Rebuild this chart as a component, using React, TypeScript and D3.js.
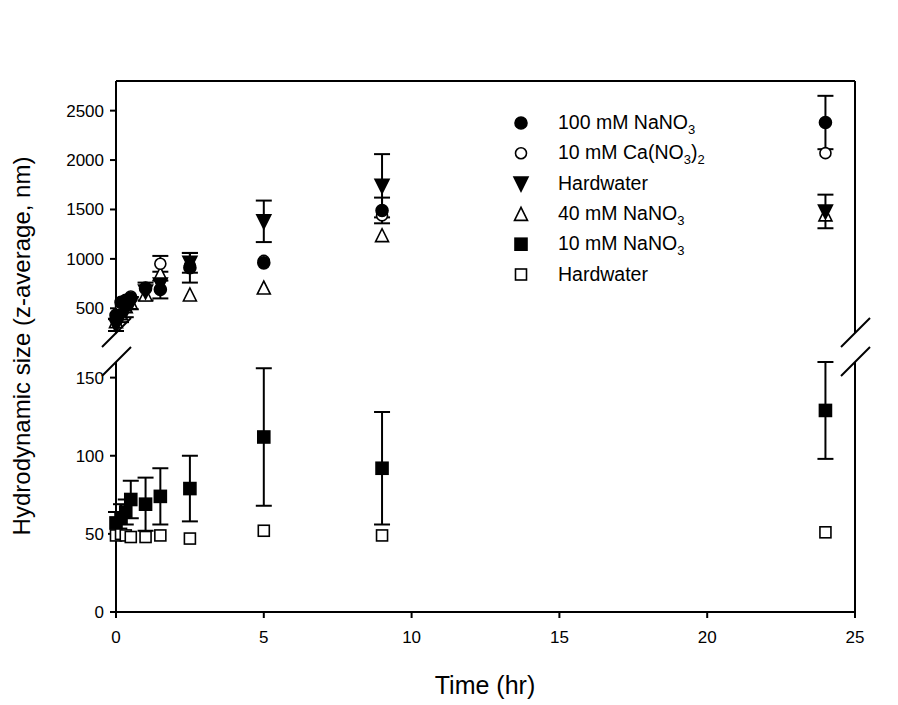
import React from "react";
import * as d3 from "d3";

const times = [0, 0.17, 0.33, 0.5, 1, 1.5, 2.5, 5, 9, 24];

// Upper panel series
const na100 = [430, 560, 580, 600, 700, 690, 910, 960, 1490, 2380];
const na100Err = [0, 0, 0, 0, 0, 90, 150, 0, 130, 270];
const ca10 = [400, 520, 560, 620, 710, 950, 930, 980, 1440, 2070];
const ca10Err = [0, 0, 0, 0, 0, 80, 0, 0, 0, 0];
const hwHigh = [330, 420, 480, 550, 670, 740, 960, 1380, 1740, 1480];
const hwHighErr = [60, 60, 70, 60, 90, 0, 100, 210, 320, 170];
const na40 = [370, 450, 520, 560, 640, 850, 640, 710, 1240, 1450];

// Lower panel series
const na10 = [57, 60, 64, 72, 69, 74, 79, 112, 92, 129];
const na10Err = [7, 9, 8, 12, 17, 18, 21, 44, 36, 31];
const hwLow = [49, 50, 49, 48, 48, 49, 47, 52, 49, 51];

const xTicks = [0, 5, 10, 15, 20, 25];
const yLowTicks = [0, 50, 100, 150];
const yHighTicks = [500, 1000, 1500, 2000, 2500];

const legendItems = [
  { shape: "circle", fill: true, label: "100 mM NaNO", sub: "3", tail: "" },
  { shape: "circle", fill: false, label: "10 mM Ca(NO", sub: "3", tail: ")2" },
  { shape: "tridown", fill: true, label: "Hardwater", sub: "", tail: "" },
  { shape: "triup", fill: false, label: "40 mM NaNO", sub: "3", tail: "" },
  { shape: "square", fill: true, label: "10 mM NaNO", sub: "3", tail: "" },
  { shape: "square", fill: false, label: "Hardwater", sub: "", tail: "" },
];

const FONT = "Arial, 'Liberation Sans', sans-serif";

function Marker({ shape, fill, cx, cy }: { shape: string; fill: boolean; cx: number; cy: number }) {
  const f = fill ? "#000" : "#fff";
  const sw = 1.6;
  if (shape === "circle") {
    return <circle cx={cx} cy={cy} r={fill ? 6 : 5.5} fill={f} stroke="#000" strokeWidth={sw} />;
  }
  if (shape === "square") {
    const s = fill ? 12 : 11;
    return <rect x={cx - s / 2} y={cy - s / 2} width={s} height={s} fill={f} stroke="#000" strokeWidth={sw} />;
  }
  if (shape === "tridown") {
    const w = 7, h = 6.5;
    return <path d={`M${cx - w},${cy - h}L${cx + w},${cy - h}L${cx},${cy + h + 1}Z`} fill={f} stroke="#000" strokeWidth={sw} />;
  }
  const w = 6.5, h = 6.5;
  return <path d={`M${cx - w},${cy + h}L${cx + w},${cy + h}L${cx},${cy - h}Z`} fill={f} stroke="#000" strokeWidth={sw} />;
}

export default function App() {
  const W = 898, H = 705;
  const x = d3.scaleLinear().domain([0, 25]).range([116, 855]);
  const yLow = d3.scaleLinear().domain([0, 160]).range([612, 362]);
  const yHigh = d3.scaleLinear().domain([250, 2800]).range([333, 81]);

  const capW = 8;
  const errBars = (vals: number[], errs: number[], y: d3.ScaleLinear<number, number>, key: string) =>
    vals.map((v, i) => {
      const e = errs[i];
      if (!e) return null;
      const cx = x(times[i]);
      const t = y(v + e), b = y(v - e);
      return (
        <g key={key + i} stroke="#000" strokeWidth={2}>
          <line x1={cx} x2={cx} y1={t} y2={b} />
          <line x1={cx - capW} x2={cx + capW} y1={t} y2={t} />
          <line x1={cx - capW} x2={cx + capW} y1={b} y2={b} />
        </g>
      );
    });

  const markers = (vals: number[], y: d3.ScaleLinear<number, number>, shape: string, fill: boolean, key: string) =>
    vals.map((v, i) => <Marker key={key + i} shape={shape} fill={fill} cx={x(times[i])} cy={y(v)} />);

  const x0 = x(0), x1 = x(25);
  const upTop = yHigh(2800), upBot = yHigh(250);
  const lowTop = yLow(160), lowBot = yLow(0);

  const slash = (cx: number, cy: number, k: string) => (
    <line key={k} x1={cx - 14} y1={cy + 14} x2={cx + 15} y2={cy - 15} stroke="#000" strokeWidth={2} />
  );

  return (
    <svg width={W} height={H} style={{ display: "block", position: "absolute", left: 0, top: 0, background: "#fff" }} fontFamily={FONT}>
      <rect width={W} height={H} fill="#fff" />
      {/* frame */}
      <g stroke="#000" strokeWidth={2} fill="none">
        <line x1={x0} x2={x1} y1={upTop} y2={upTop} />
        <line x1={x0} x2={x1} y1={lowBot} y2={lowBot} />
        <line x1={x0} x2={x0} y1={upTop} y2={upBot} />
        <line x1={x0} x2={x0} y1={lowTop} y2={lowBot} />
        <line x1={x1} x2={x1} y1={upTop} y2={upBot} />
        <line x1={x1} x2={x1} y1={lowTop} y2={lowBot} />
      </g>
      {/* break marks */}
      {slash(x0, upBot, "s1")}
      {slash(x0, lowTop, "s2")}
      {slash(x1, upBot, "s3")}
      {slash(x1, lowTop, "s4")}

      {/* x ticks */}
      {xTicks.map((t) => (
        <g key={"xt" + t}>
          <line x1={x(t)} x2={x(t)} y1={lowBot} y2={lowBot + 6} stroke="#000" strokeWidth={2} />
          <text x={x(t)} y={lowBot + 31} textAnchor="middle" fontSize={17}>{t}</text>
        </g>
      ))}
      {/* y ticks low */}
      {yLowTicks.map((t) => (
        <g key={"yl" + t}>
          <line x1={x0 - 6} x2={x0} y1={yLow(t)} y2={yLow(t)} stroke="#000" strokeWidth={2} />
          <text x={x0 - 12} y={yLow(t) + 6} textAnchor="end" fontSize={17}>{t}</text>
        </g>
      ))}
      {yHighTicks.map((t) => (
        <g key={"yh" + t}>
          <line x1={x0 - 6} x2={x0} y1={yHigh(t)} y2={yHigh(t)} stroke="#000" strokeWidth={2} />
          <text x={x0 - 12} y={yHigh(t) + 6} textAnchor="end" fontSize={17}>{t}</text>
        </g>
      ))}

      {/* axis titles */}
      <text x={485} y={694} textAnchor="middle" fontSize={25}>Time (hr)</text>
      <text transform={`translate(30,346) rotate(-90)`} textAnchor="middle" fontSize={24}>Hydrodynamic size (z-average, nm)</text>

      {/* lower panel */}
      {errBars(na10, na10Err, yLow, "e10")}
      {markers(hwLow, yLow, "square", false, "hwl")}
      {markers(na10, yLow, "square", true, "n10")}

      {/* upper panel */}
      {errBars(na100, na100Err, yHigh, "e100")}
      {errBars(ca10, ca10Err, yHigh, "eca")}
      {errBars(hwHigh, hwHighErr, yHigh, "ehw")}
      {markers(na40, yHigh, "triup", false, "n40")}
      {markers(ca10, yHigh, "circle", false, "ca")}
      {markers(na100, yHigh, "circle", true, "n100")}
      {markers(hwHigh, yHigh, "tridown", true, "hwh")}

      {/* legend */}
      {legendItems.map((it, i) => {
        const ly = 123 + i * 30.3;
        return (
          <g key={"lg" + i}>
            <Marker shape={it.shape} fill={it.fill} cx={521} cy={ly} />
            <text x={558} y={ly + 6} fontSize={19.5}>
              {it.label}
              {it.sub && <tspan dy={5} fontSize={13}>{it.sub}</tspan>}
              {it.tail === ")2" && (
                <>
                  <tspan dy={-5}>)</tspan>
                  <tspan dy={5} fontSize={13}>2</tspan>
                </>
              )}
            </text>
          </g>
        );
      })}
    </svg>
  );
}
